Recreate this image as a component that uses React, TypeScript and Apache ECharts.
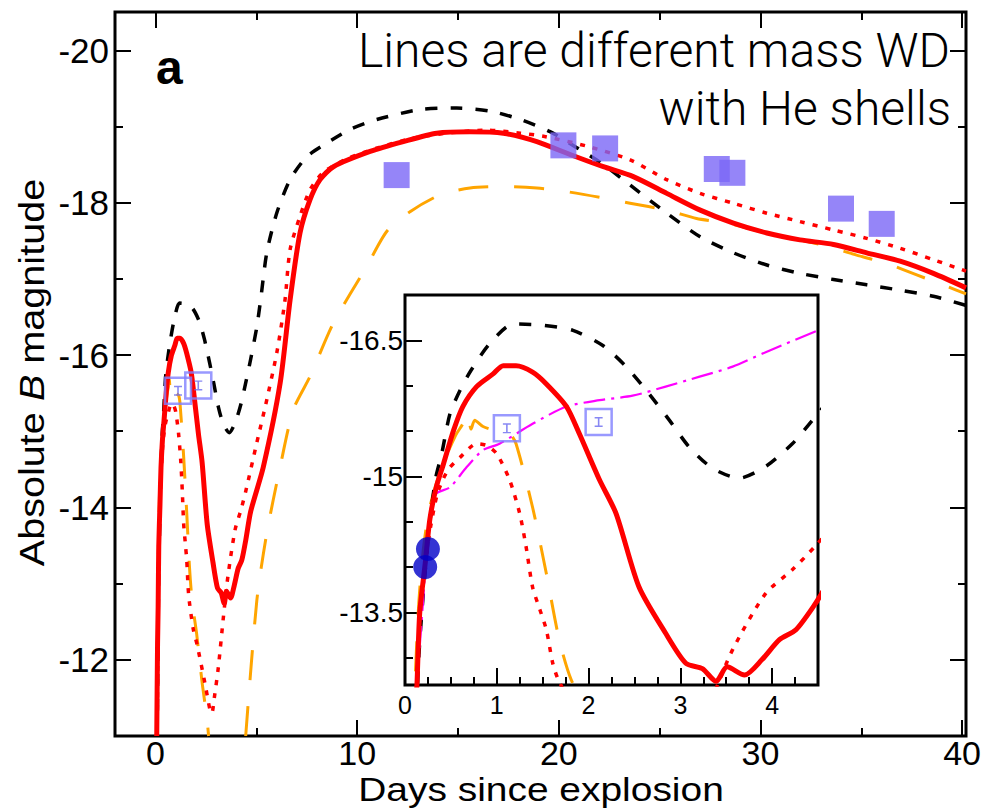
import React, { useEffect, useRef } from "react";
import * as echarts from "echarts";

// ---------- data (day since explosion, absolute B magnitude) ----------
const redSolid: [number, number][] = [
  [0.06, -11.0], [0.1, -12.2], [0.13, -12.7], [0.16, -13.49], [0.22, -14.04], [0.27, -14.52],
  [0.34, -14.88], [0.42, -15.14], [0.53, -15.51], [0.63, -15.77], [0.78, -15.99], [0.96, -16.13],
  [1.07, -16.22], [1.21, -16.22], [1.39, -16.15], [1.54, -16.02], [1.76, -15.77], [1.9, -15.47],
  [2.12, -14.96], [2.3, -14.59], [2.55, -13.78], [2.84, -13.27], [3.06, -12.94], [3.24, -12.88],
  [3.39, -12.74], [3.51, -12.9], [3.7, -12.81], [3.89, -12.98], [4.08, -13.2], [4.26, -13.31],
  [4.46, -13.58], [4.7, -13.95], [5.32, -14.53], [6.15, -15.63], [6.64, -16.72], [7.13, -17.6],
  [7.63, -18.04], [8.12, -18.3], [8.78, -18.47], [10.59, -18.67], [12.23, -18.8], [13.88, -18.91],
  [15.52, -18.93], [17.17, -18.91], [18.82, -18.8], [20.46, -18.63], [22.1, -18.47], [23.58, -18.34],
  [25.23, -18.12], [26.88, -17.9], [28.52, -17.73], [30.17, -17.6], [31.81, -17.51], [33.46, -17.45],
  [35.1, -17.34], [36.75, -17.23], [38.39, -17.07], [40, -16.88],
];

const redDotted: [number, number][] = [
  [0.08, -11.0], [0.13, -12.7], [0.16, -13.49], [0.22, -14.04], [0.28, -14.45], [0.35, -14.8],
  [0.42, -14.98], [0.49, -15.1], [0.6, -15.21], [0.78, -15.36], [0.89, -15.34], [1.0, -15.25],
  [1.14, -14.96], [1.25, -14.59], [1.32, -14.22], [1.39, -13.78], [1.47, -13.53], [1.54, -13.31],
  [1.61, -12.94], [1.67, -12.76], [1.87, -12.39], [2.05, -12.2], [2.44, -11.69], [2.69, -11.34],
  [2.78, -11.3], [2.9, -11.5], [3.1, -11.9], [3.35, -12.56], [3.57, -13.09], [3.93, -13.71],
  [4.22, -13.97], [4.46, -14.22], [5.0, -14.85], [5.49, -15.41], [6.0, -16.05], [6.39, -16.72],
  [6.64, -17.38], [7.13, -17.82], [7.63, -18.17], [8.3, -18.4], [9.5, -18.58], [11, -18.72],
  [13, -18.86], [16.35, -18.95], [18, -18.91], [19.14, -18.87], [21.28, -18.74], [23.42, -18.56],
  [25.23, -18.3], [26.88, -18.12], [28.52, -17.99], [30.17, -17.86], [31.81, -17.75], [33.46, -17.64],
  [35.1, -17.53], [36.75, -17.4], [38.39, -17.25], [40, -17.1],
];

const blackDashed: [number, number][] = [
  [0.08, -11.0], [0.15, -13.0], [0.25, -14.3], [0.33, -14.96], [0.4, -15.25], [0.49, -15.69],
  [0.6, -15.95], [0.72, -16.17], [0.92, -16.46], [1.18, -16.68], [1.47, -16.67], [1.83, -16.61],
  [2.16, -16.44], [2.41, -16.21], [2.66, -15.91], [2.88, -15.62], [3.1, -15.32], [3.35, -15.09],
  [3.64, -14.98], [3.93, -15.11], [4.22, -15.36], [4.44, -15.62], [4.7, -15.95], [5.0, -16.37],
  [5.2, -16.75], [5.49, -17.34], [5.98, -17.86], [6.64, -18.3], [7.46, -18.6], [8.45, -18.78],
  [9.6, -18.96], [10.92, -19.09], [13.06, -19.22], [14.87, -19.24], [16.51, -19.2], [18, -19.09],
  [19.47, -18.93], [20.79, -18.72], [22.1, -18.5], [23.42, -18.23], [25.23, -17.86], [26.88, -17.55],
  [28.52, -17.34], [30.17, -17.18], [31.81, -17.07], [33.46, -16.99], [35.1, -16.92], [36.75, -16.85],
  [38.39, -16.77], [40, -16.65],
];

const orangeEarly: [number, number][] = [
  [0.05, -11.0], [0.1, -12.5], [0.15, -13.6], [0.2, -14.2], [0.27, -14.66], [0.4, -15.1],
  [0.55, -15.45], [0.63, -15.58], [0.68, -15.7], [0.72, -15.52], [0.76, -15.62], [0.85, -15.55],
  [1.0, -15.5], [1.14, -15.47], [1.21, -15.36], [1.39, -14.66], [1.54, -13.93], [1.68, -13.2],
  [1.81, -12.76], [2.03, -12.34], [2.3, -11.7], [2.53, -11.25], [2.62, -11.0],
];

const orangeLate: [number, number][] = [
  [4.45, -11.0], [5.0, -12.78], [5.49, -13.66], [6.15, -14.53], [6.8, -15.28], [7.63, -15.72],
  [8.78, -16.42], [10.42, -17.16], [11.41, -17.62], [12.56, -17.88], [14.04, -18.1], [15.52, -18.19],
  [17.17, -18.21], [18.82, -18.19], [20.13, -18.15], [22.1, -18.06], [23.42, -17.99], [25.23, -17.9],
  [26.7, -17.79], [28.19, -17.73], [30.17, -17.6], [32.8, -17.45], [34.6, -17.31], [36.09, -17.2],
  [37.57, -17.05], [39.05, -16.9], [40, -16.8],
];

const magentaDashDot: [number, number][] = [
  [0.13, -12.7], [0.2, -13.67], [0.27, -14.59], [0.34, -14.81], [0.49, -14.88], [0.67, -15.1],
  [0.85, -15.29], [1.03, -15.36], [1.39, -15.58], [1.76, -15.77], [2.12, -15.84], [2.48, -15.89],
  [2.84, -15.99], [3.21, -16.1], [3.57, -16.21], [3.93, -16.37], [4.5, -16.61],
];

const filledSquares: [number, number][] = [
  [11.9, -18.36], [20.13, -18.75], [22.19, -18.71], [27.7, -18.44], [28.47, -18.39], [33.83, -17.92], [35.84, -17.72],
];
const openSquares: [number, number][] = [[1.11, -15.53], [2.11, -15.6]];
const blueCircles: [number, number][] = [[0.22, -14.0], [0.25, -14.2]];

// tick ranges
const mainXTicks = { min: 0, max: 40, interval: 10 };
const mainYTicks = { min: -20, max: -12, interval: 2 };
const insetYLabelTicks = { min: -16.5, max: -13.5, interval: 1.5 };

const FONT = "'Liberation Sans', Arial, Helvetica, sans-serif";
const IBEAM = "path://M0,0H10V2H6V12H10V14H0V12H4V2H0Z";

export default function App() {
  const ref = useRef<HTMLDivElement>(null);
  useEffect(() => {
    const chart = echarts.init(ref.current!, null, { renderer: "svg" });
    const tickLabel = (fs: number, margin: number, extra: any = {}) => ({
      show: true, color: "#000", fontFamily: FONT, fontSize: fs, margin, ...extra,
    });
    const noSplit = { splitLine: { show: false }, minorSplitLine: { show: false } };
    const tick = (len: number) => ({ show: true, inside: true, length: len, lineStyle: { color: "#000", width: 2 } });
    const minor = { show: true, splitNumber: 2, length: 8, lineStyle: { color: "#000", width: 2 } };
    const line = (data: any, color: string, width: number, type: any, xi: number, yi: number, z = 2) => ({
      type: "line", data, xAxisIndex: xi, yAxisIndex: yi, showSymbol: false, symbol: "none",
      smooth: 0.25, clip: true, z,
      lineStyle: { color, width, type, cap: "butt", join: "round" },
    });

    const option: any = {
      animation: false,
      backgroundColor: "#fff",
      grid: [
        { left: 115, top: 12, width: 851, height: 724, show: true, borderColor: "#000", borderWidth: 3, backgroundColor: "#fff" },
        { left: 155.5, top: 12, width: 810.5, height: 724 },
        { left: 115, top: 50.5, width: 851, height: 609 },
        { left: 405, top: 295, width: 413, height: 390, show: true, borderColor: "#000", borderWidth: 3, backgroundColor: "#fff" },
        { left: 405, top: 340.35, width: 413, height: 272.1 },
      ],
      xAxis: [
        { type: "value", gridIndex: 0, min: -2, max: 40, show: false },
        {
          type: "value", gridIndex: 1, position: "bottom", ...mainXTicks,
          axisLine: { show: false, onZero: false },
          axisTick: tick(16), minorTick: minor,
          axisLabel: tickLabel(34, 0, { lineHeight: 34 }), ...noSplit,
        },
        {
          type: "value", gridIndex: 1, position: "top", ...mainXTicks,
          axisLine: { show: false, onZero: false },
          axisTick: tick(16), minorTick: minor,
          axisLabel: { show: false }, ...noSplit,
        },
        { type: "value", gridIndex: 2, min: 0, max: 1, show: false },
        {
          type: "value", gridIndex: 3, position: "bottom", min: 0, max: 4.5, interval: 1,
          axisLine: { show: false, onZero: false },
          axisTick: tick(17),
          axisLabel: tickLabel(25, 7, { showMaxLabel: false, lineHeight: 25 }), ...noSplit,
        },
        {
          type: "value", gridIndex: 3, position: "bottom", min: 0, max: 4.5, interval: 0.25,
          axisLine: { show: false, onZero: false },
          axisTick: tick(8),
          axisLabel: { show: false }, ...noSplit,
        },
        { type: "value", gridIndex: 4, min: 0, max: 1, show: false },
      ],
      yAxis: [
        { type: "value", gridIndex: 0, min: -20.5, max: -11, inverse: true, show: false },
        { type: "value", gridIndex: 1, min: 0, max: 1, show: false },
        {
          type: "value", gridIndex: 2, position: "left", inverse: true, ...mainYTicks,
          axisLine: { show: false, onZero: false },
          axisTick: tick(16), minorTick: minor,
          axisLabel: tickLabel(35, 6), ...noSplit,
        },
        {
          type: "value", gridIndex: 2, position: "right", inverse: true, ...mainYTicks,
          axisLine: { show: false, onZero: false },
          axisTick: tick(16), minorTick: minor,
          axisLabel: { show: false }, ...noSplit,
        },
        {
          type: "value", gridIndex: 3, min: -17, max: -12.7, interval: 0.5, inverse: true,
          axisLine: { show: false, onZero: false },
          axisTick: tick(8),
          axisLabel: { show: false }, ...noSplit,
        },
        {
          type: "value", gridIndex: 4, inverse: true, ...insetYLabelTicks,
          axisLine: { show: false, onZero: false },
          axisTick: tick(17),
          axisLabel: tickLabel(28, 2), ...noSplit,
        },
      ],
      series: [
        // main panel
        line(orangeEarly, "#ffa500", 3, [30, 26], 0, 0),
        line(orangeLate, "#ffa500", 3, [30, 26], 0, 0),
        line(blackDashed, "#000", 3.5, [12, 13], 0, 0),
        line(redDotted, "#ff0000", 3.5, [5, 8], 0, 0),
        line(redSolid, "#ff0000", 5, "solid", 0, 0),
        {
          type: "scatter", data: filledSquares, xAxisIndex: 0, yAxisIndex: 0, symbol: "rect", symbolSize: 26,
          itemStyle: { color: "#7a66f6" }, z: 4,
        },
        {
          type: "scatter", data: openSquares, xAxisIndex: 0, yAxisIndex: 0, symbol: "rect", symbolSize: 26,
          itemStyle: { color: "rgba(0,0,0,0)", borderColor: "#7f7fff", borderWidth: 2.5 }, z: 4,
        },
        {
          type: "scatter", data: openSquares, xAxisIndex: 0, yAxisIndex: 0, symbol: IBEAM, symbolSize: [8, 10],
          itemStyle: { color: "#6a6af0" }, z: 4,
        },
        // inset panel
        line(orangeEarly, "#ffa500", 3, [30, 26], 4, 4, 6),
        line(orangeLate, "#ffa500", 3, [30, 26], 4, 4, 6),
        line(blackDashed, "#000", 3.5, [12, 14], 4, 4, 6),
        line(magentaDashDot, "#ff00ff", 2.2, [22, 6, 3, 6], 4, 4, 6),
        line(redDotted, "#ff0000", 3.5, [5, 8], 4, 4, 6),
        line(redSolid, "#ff0000", 5, "solid", 4, 4, 6),
        {
          type: "scatter", data: openSquares, xAxisIndex: 4, yAxisIndex: 4, symbol: "rect", symbolSize: 26,
          itemStyle: { color: "rgba(0,0,0,0)", borderColor: "#7f7fff", borderWidth: 2.5 }, z: 7,
        },
        {
          type: "scatter", data: openSquares, xAxisIndex: 4, yAxisIndex: 4, symbol: IBEAM, symbolSize: [8, 10],
          itemStyle: { color: "#6a6af0" }, z: 7,
        },
        {
          type: "scatter", data: blueCircles, xAxisIndex: 4, yAxisIndex: 4, symbol: "circle", symbolSize: 24,
          itemStyle: { color: "#0000c8" }, z: 7,
        },
      ],
      graphic: [
        {
          type: "text", x: 156, y: 67, z: 10,
          style: { text: "a", font: `bold 48px ${FONT}`, fill: "#000", textAlign: "left", textVerticalAlign: "middle" },
        },
        {
          type: "text", x: 950, y: 50.5, z: 10,
          style: { text: "Lines are different mass WD", font: `300 48px Roboto, ${FONT}`, fill: "#000", textAlign: "right", textVerticalAlign: "middle" },
        },
        {
          type: "text", x: 951, y: 108.5, z: 10,
          style: { text: "with He shells", font: `300 48px Roboto, ${FONT}`, fill: "#000", textAlign: "right", textVerticalAlign: "middle" },
        },
        {
          type: "text", x: 541, y: 790, scaleX: 1.18, z: 10,
          style: { text: "Days since explosion", font: `33px ${FONT}`, fill: "#000", textAlign: "center", textVerticalAlign: "middle" },
        },
        {
          type: "text", x: 32, y: 372.5, rotation: Math.PI / 2, scaleX: 1.1, z: 10,
          style: {
            text: "{n|Absolute }{i|B}{n| magnitude}",
            fill: "#000", textAlign: "center", textVerticalAlign: "middle",
            rich: {
              n: { fontFamily: FONT, fontSize: 36, fill: "#000" },
              i: { fontFamily: FONT, fontSize: 36, fontStyle: "italic", fill: "#000" },
            },
          },
        },
      ],
    };
    chart.setOption(option);
    return () => chart.dispose();
  }, []);
  return (
    <div
      ref={ref}
      style={{ position: "fixed", left: 0, top: 0, width: 984, height: 810, background: "#fff" }}
    />
  );
}
